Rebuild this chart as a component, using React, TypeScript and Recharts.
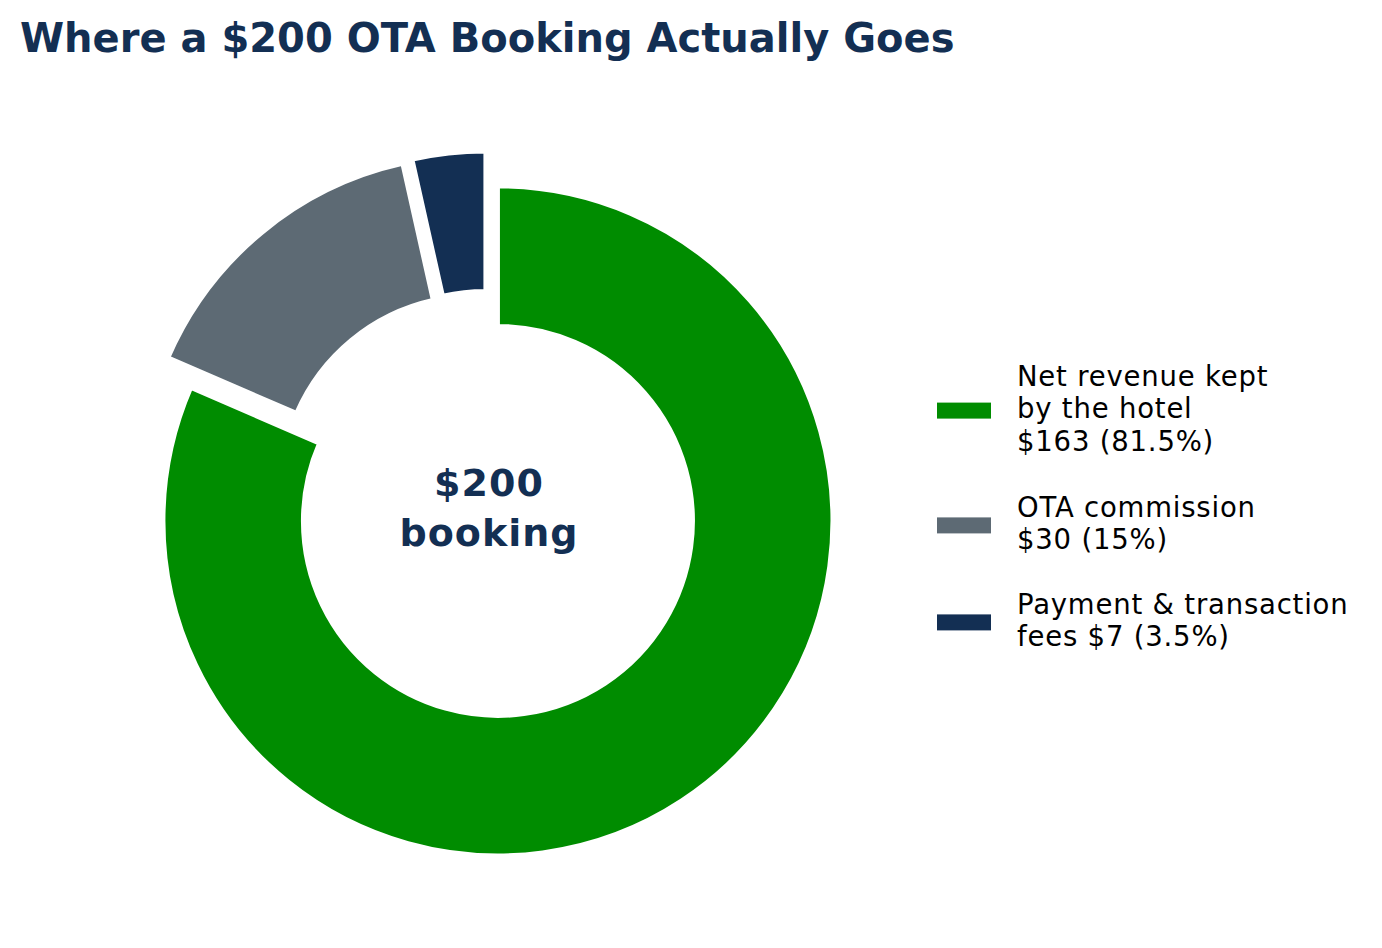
import { Cell, Pie, PieChart } from 'recharts'

const categories = ['Net revenue kept by the hotel', 'OTA commission', 'Payment & transaction fees']
const values = [163, 30, 7]
const colors = ['#008c00', '#5d6a74', '#132f53']
const legendLines = [
  ['Net revenue kept', 'by the hotel', '$163 (81.5%)'],
  ['OTA commission', '$30 (15%)'],
  ['Payment & transaction', 'fees $7 (3.5%)'],
]
const title = 'Where a $200 OTA Booking Actually Goes'
const centerLines = ['$200', 'booking']

const WIDTH = 1382
const HEIGHT = 948
const CX = 487.5
const CY = 505
const EXPLODE = 19 // px, every wedge pushed out along its mid angle
const NAVY = '#132f53'
const FONT = '"DejaVu Sans", sans-serif'

const data = categories.map((name, i) => ({ name, value: values[i] }))
const total = values.reduce((a, b) => a + b, 0)

// wedge i is drawn by its own Pie, shifted outward like matplotlib's explode
function wedgeCenters() {
  let cum = 0
  return values.map((v) => {
    const mid = ((90 - (360 * (cum + v / 2)) / total) * Math.PI) / 180
    cum += v
    return { x: CX + EXPLODE * Math.cos(mid), y: CY - EXPLODE * Math.sin(mid) }
  })
}

function LegendBlock() {
  const groupTops = [366, 497, 594]
  const lineH = 32.4
  return (
    <g>
      {legendLines.map((lines, i) => {
        const top = groupTops[i]
        const mid = top + (lines.length * lineH) / 2 - 4
        return (
          <g key={i}>
            <rect x={937} y={mid - 8} width={54} height={16} fill={colors[i]} />
            {lines.map((ln, k) => (
              <text
                key={k}
                x={1017}
                y={top + 20 + k * lineH}
                fontFamily={FONT}
                fontSize={27.5}
                letterSpacing={0.8}
                fill="#000"
              >
                {ln}
              </text>
            ))}
          </g>
        )
      })}
    </g>
  )
}

export default function App() {
  const centers = wedgeCenters()
  return (
    <div style={{ position: 'absolute', left: 0, top: 0, width: WIDTH, height: HEIGHT, background: '#fff' }}>
      <PieChart width={WIDTH} height={HEIGHT} margin={{ top: 0, right: 0, bottom: 0, left: 0 }}>
        {values.map((_, i) => (
          <Pie
            key={i}
            data={data}
            dataKey="value"
            nameKey="name"
            cx={centers[i].x}
            cy={centers[i].y}
            innerRadius={195}
            outerRadius={334.5}
            startAngle={90}
            endAngle={-270}
            legendType="none"
            isAnimationActive={false}
          >
            {data.map((_, j) => (
              <Cell
                key={j}
                fill={j === i ? colors[j] : 'none'}
                stroke={j === i ? '#ffffff' : 'none'}
                strokeWidth={4}
              />
            ))}
          </Pie>
        ))}
        <text x={20} y={52} fontFamily={FONT} fontSize={40} fontWeight="bold" fill={NAVY}>
          {title}
        </text>
        {centerLines.map((ln, k) => (
          <text
            key={k}
            x={489}
            y={496 + k * 50}
            textAnchor="middle"
            fontFamily={FONT}
            fontSize={38}
            fontWeight="bold"
            letterSpacing={1}
            fill={NAVY}
          >
            {ln}
          </text>
        ))}
        <LegendBlock />
      </PieChart>
    </div>
  )
}
